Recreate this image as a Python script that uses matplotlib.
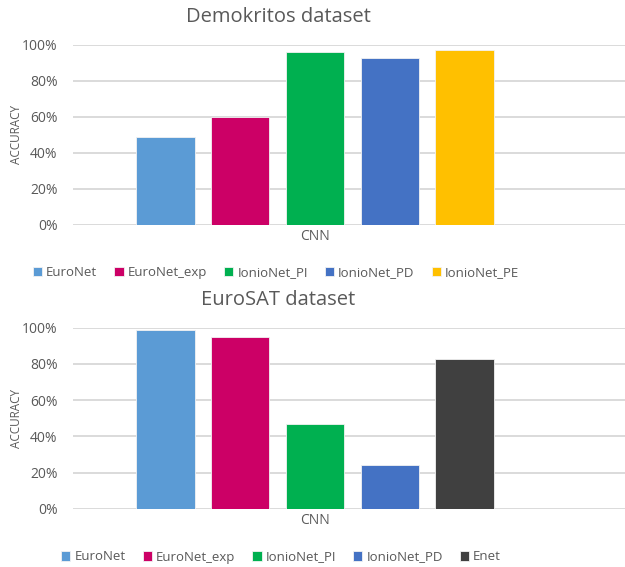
import matplotlib
matplotlib.use("Agg")
import matplotlib.pyplot as plt
from matplotlib.ticker import PercentFormatter

plt.rcParams['font.family'] = ['Open Sans', 'DejaVu Sans']

category = "CNN"

demo_models = ["EuroNet", "EuroNet_exp", "IonioNet_PI", "IonioNet_PD", "IonioNet_PE"]
demo_acc = [0.49, 0.60, 0.96, 0.93, 0.97]
demo_colors = ["#5B9BD5", "#CC0066", "#00B050", "#4472C4", "#FFC000"]

euro_models = ["EuroNet", "EuroNet_exp", "IonioNet_PI", "IonioNet_PD", "Enet"]
euro_acc = [0.99, 0.95, 0.47, 0.24, 0.83]
euro_colors = ["#5B9BD5", "#CC0066", "#00B050", "#4472C4", "#404040"]

yticks = [0, 0.2, 0.4, 0.6, 0.8, 1.0]

W, H = 625, 567
fig = plt.figure(figsize=(W / 100, H / 100), dpi=100)
grey = "#595959"


def draw(rect, title, title_y, models, acc, colors, legend_x, legend_y):
    ax = fig.add_axes(rect)
    n = len(models)
    handles = []
    for i in range(n):
        b = ax.bar(i - (n - 1) / 2, acc[i], width=0.78, color=colors[i],
                   edgecolor="#F2F2F2", linewidth=0.6, label=models[i], zorder=3)
        handles.append(b)
    ax.set_ylim(0, 1.0)
    ax.set_xlim(-3.24, 4.15)
    ax.set_yticks(yticks)
    ax.yaxis.set_major_formatter(PercentFormatter(1.0, decimals=0))
    ax.grid(axis="y", color="#D4D4D4", linewidth=1.2, zorder=0)
    ax.set_axisbelow(True)
    for s in ["top", "right", "left", "bottom"]:
        ax.spines[s].set_visible(False)
    ax.tick_params(axis="y", length=0, labelsize=10, labelcolor=grey, pad=11)
    ax.tick_params(axis="x", length=0, labelsize=10, labelcolor=grey, pad=3)
    ax.set_xticks([0])
    ax.set_xticklabels([category])
    ax.set_ylabel("ACCURACY", fontsize=8.5, color=grey)
    ax.yaxis.set_label_coords(-0.09, 0.5)
    fig.text(278 / W, 1 - title_y / H, title, ha="center", va="center",
             fontsize=14.5, color=grey)
    fig.legend(handles=handles, labels=models, loc="center", ncol=n,
               bbox_to_anchor=(legend_x / W, 1 - legend_y / H), frameon=False,
               fontsize=9.5, labelcolor=grey, handlelength=0.7, handleheight=0.7,
               handletextpad=0.3, columnspacing=1.3)
    return ax


draw([73 / W, 1 - 225 / H, 1 - 73 / W, 180 / H], "Demokritos dataset", 17,
     demo_models, demo_acc, demo_colors, 276, 273)
draw([73 / W, 1 - 509 / H, 1 - 73 / W, 181.3 / H], "EuroSAT dataset", 300,
     euro_models, euro_acc, euro_colors, 281, 557)

fig.savefig("out.png", dpi=100)
